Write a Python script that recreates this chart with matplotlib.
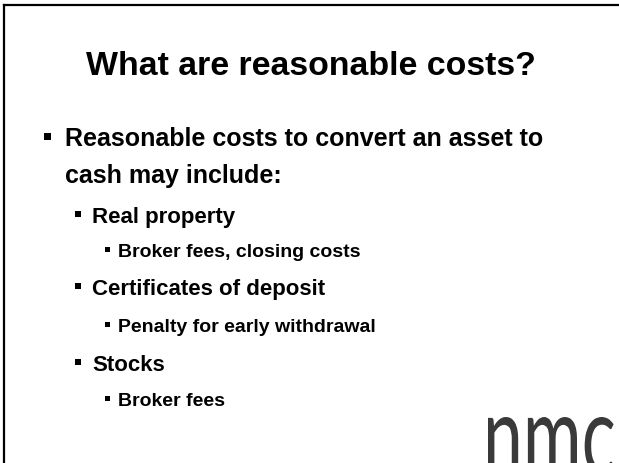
import matplotlib
matplotlib.use("Agg")
import matplotlib.pyplot as plt
from matplotlib.patches import Rectangle, PathPatch
from matplotlib.lines import Line2D
from matplotlib.textpath import TextPath
from matplotlib.font_manager import FontProperties
from matplotlib.transforms import Affine2D

plt.rcParams['font.family'] = ['Liberation Sans', 'DejaVu Sans']

# slide size in pixels
W, H = 619, 463

# slide content
title = "What are reasonable costs?"
lines = ["Reasonable costs to convert an asset to",
         "cash may include:",
         "Real property",
         "Broker fees, closing costs",
         "Certificates of deposit",
         "Penalty for early withdrawal",
         "Stocks",
         "Broker fees"]
levels = [1, 0, 2, 3, 2, 3, 2, 3]   # 0 = wrapped line, no bullet
logo = "nmc"

# layout (pixels, y measured from top)
baselines = [146, 183, 223, 257, 295, 332, 371, 406]
# level: (text x, font size pt, bullet x, bullet size px)
style = {1: (65, 18, 44, 7),
         2: (92, 16, 75, 6),
         3: (118, 14, 105, 5)}


def fx(x):
    return x / W


def fy(y):
    return 1 - y / H


fig = plt.figure(figsize=(W / 100, H / 100), dpi=100)
fig.patch.set_facecolor('white')

# frame: only the top and left edges show
fig.add_artist(Line2D([fx(4), fx(W)], [fy(5), fy(5)], color='black', lw=1.6))
fig.add_artist(Line2D([fx(4), fx(4)], [fy(5), fy(H)], color='black', lw=1.6))

# title
fig.text(fx(311), fy(75), title, ha='center', va='baseline',
         fontsize=24.4, fontweight='bold', color='black')

# bullet list
for text, lev, base in zip(lines, levels, baselines):
    tx, size, bx, bs = style[max(lev, 1)]
    fig.text(fx(tx), fy(base), text, ha='left', va='baseline',
             fontsize=size, fontweight='bold', color='black')
    if lev > 0:
        cap = 0.716 * size * 100 / 72
        cy = base - 0.55 * cap
        fig.add_artist(Rectangle((fx(bx), fy(cy + bs / 2)), bs / W, bs / H,
                                 transform=fig.transFigure,
                                 facecolor='black', edgecolor='none'))

# logo in the bottom right corner, cut off by the slide edge
prop = FontProperties(family='Lato', weight='normal')
tp = TextPath((0, 0), logo, size=100, prop=prop)
bb = TextPath((0, 0), logo[:2], size=100, prop=prop).get_extents()
x0, top, base = 488, 417, 474
sx = (577 - x0) / bb.width
sy = (base - top) / bb.y1
tr = (Affine2D().translate(-bb.x0, 0).scale(sx / 100, sy / 100)
      .translate(x0 / 100, (H - base) / 100) + fig.dpi_scale_trans)
fig.add_artist(PathPatch(tp, transform=tr, facecolor='#3a3a3a',
                         edgecolor='none'))

fig.savefig('out.png', dpi=100)
